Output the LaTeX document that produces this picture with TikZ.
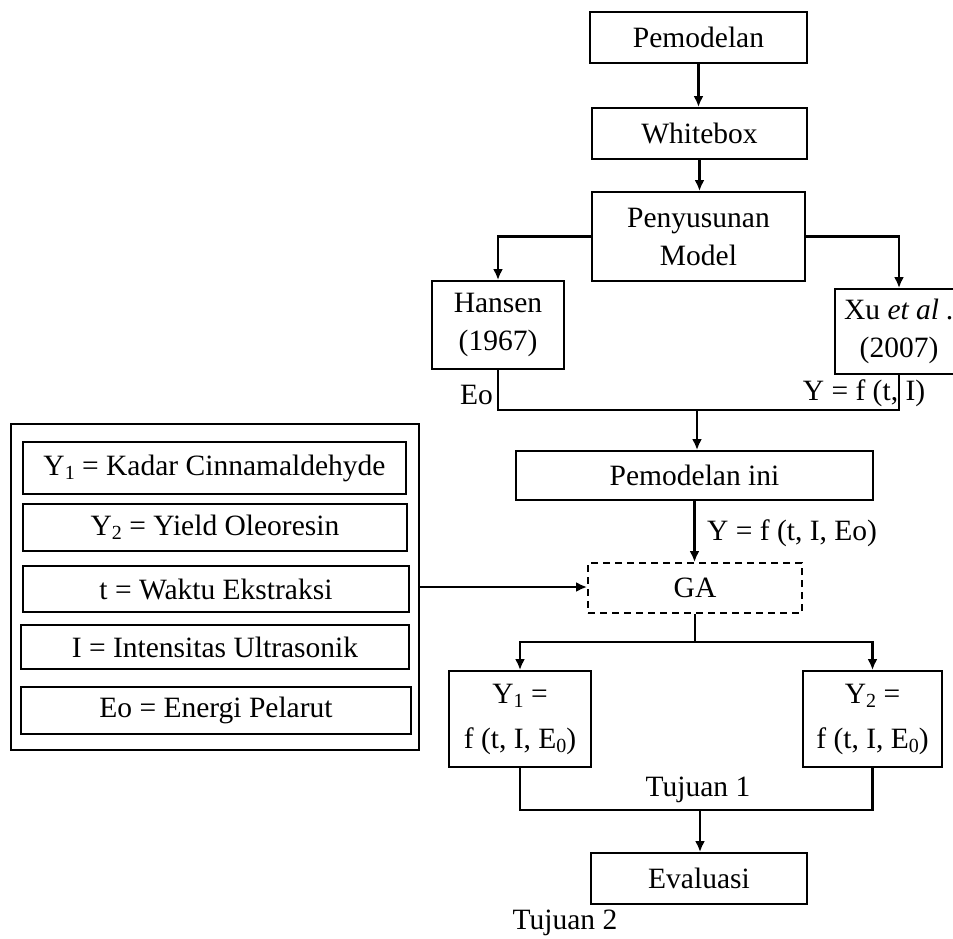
\documentclass[tikz,border=0pt]{standalone}
\usepackage{fontspec}
\setmainfont{Liberation Serif}
\usetikzlibrary{positioning,arrows.meta}
\newcommand{\bawah}[1]{\raisebox{-0.3ex}{\fontsize{20}{20}\selectfont #1}}

\begin{document}
\begin{tikzpicture}[x=1pt,y=-1pt,>={Latex[length=11pt,width=10pt]},
  font=\fontsize{29.5}{38}\selectfont,
  box/.style={draw,line width=1.9pt,inner sep=0pt,align=center},
  ln/.style={line width=2.5pt},
  lbl/.style={inner sep=0pt}]
  \useasboundingbox (0,0) rectangle (953,938);
  \node[box,minimum width=217pt,minimum height=51pt] (pem) at (698.5,37.5) {Pemodelan};
  \node[box,minimum width=215pt,minimum height=51pt] (wbox) at (699.5,133.5) {Whitebox};
  \node[box,minimum width=213pt,minimum height=89pt] (susun) at (698.5,236.5) {Penyusunan\\Model};
  \node[box,minimum width=132pt,minimum height=88pt] (hansen) at (498,325) {Hansen\\(1967)};
  \node[box,minimum width=128pt,minimum height=85pt] (xu) at (899,331.5) {Xu \textit{et al .}\\(2007)};
  \node[box,minimum width=357pt,minimum height=49pt] (ini) at (694.5,475.5) {Pemodelan ini};
  \node[box,dashed,dash pattern=on 7pt off 5pt,minimum width=214pt,minimum height=50pt] (ga) at (695,588) {GA};
  % keterangan variabel
  \node[box,minimum width=408pt,minimum height=326pt] (leg) at (215,587) {};
  \node[box,minimum width=383pt,minimum height=52pt] (v1) at (214.5,468) {Y\bawah{1} = Kadar Cinnamaldehyde};
  \node[box,minimum width=384pt,minimum height=47pt] (v2) at (215,527.5) {Y\bawah{2} = Yield Oleoresin};
  \node[box,minimum width=386pt,minimum height=46pt] (v3) at (216,589) {t = Waktu Ekstraksi};
  \node[box,minimum width=388pt,minimum height=44pt] (v4) at (215,647) {I = Intensitas Ultrasonik};
  \node[box,minimum width=390pt,minimum height=47pt] (v5) at (216,710.5) {Eo = Energi Pelarut};
  \node[box,minimum width=142pt,minimum height=96pt] (hasil1) at (520,719) {Y\bawah{1} =\\[7pt]f (t, I, E\bawah{0})};
  \node[box,minimum width=139pt,minimum height=96pt] (hasil2) at (872.5,719) {Y\bawah{2} =\\[7pt]f (t, I, E\bawah{0})};
  \node[box,minimum width=216pt,minimum height=51pt] (eval) at (699,878.5) {Evaluasi};
  \coordinate (gab1) at (697,410);
  \coordinate (cab) at (695,642);
  \coordinate (gab2) at (700,810);
  \draw[ln,->] (pem.south) -- (pem.south |- wbox.north);
  \draw[ln,->] (wbox.south) -- (wbox.south |- susun.north);
  \draw[ln,->] (susun.west) -| (hansen.north);
  \draw[ln,->] (susun.east) -| (xu.north);
  \draw[ln] (hansen.south) |- (gab1) -| (xu.south);
  \draw[ln,->] (gab1) -- (gab1 |- ini.north);
  \draw[ln,->] (ini.south) -- (ini.south |- ga.north);
  \draw[ln,->] (leg.east) -- (leg.east -| ga.west);
  \draw[ln] (ga.south) -- (cab);
  \draw[ln,->] (cab) -| (hasil1.north);
  \draw[ln,->] (cab) -| (hasil2.north);
  \draw[ln] (hasil1.south) |- (gab2) -| (hasil2.south);
  \draw[ln,->] (gab2) -- (gab2 |- eval.north);
  % label
  \node[lbl,anchor=east] (leo) at (493,395) {Eo};
  \node[lbl] (lyxu) at (864,393) {Y = f (t, I)};
  \node[lbl,anchor=west] (lyini) at (707,533) {Y = f (t, I, Eo)};
  \node[lbl] (ltj1) at (698,790) {Tujuan 1};
  \node[lbl] (ltj2) at (565,923) {Tujuan 2};
\end{tikzpicture}
\end{document}
